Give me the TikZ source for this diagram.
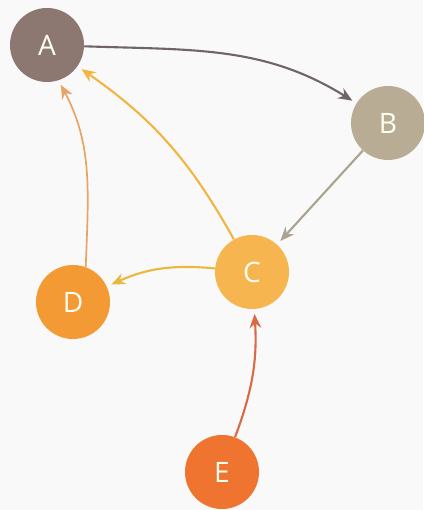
\documentclass[tikz,border=0pt]{standalone}
\usepackage{fontspec}
\setsansfont{Open Sans}
\usetikzlibrary{arrows.meta}
\definecolor{figBg}{RGB}{249,249,250}
\definecolor{figA}{RGB}{141,119,113}
\definecolor{figB}{RGB}{185,172,149}
\definecolor{figC}{RGB}{246,181,78}
\definecolor{figD}{RGB}{244,154,52}
\definecolor{figE}{RGB}{238,116,48}
\definecolor{lnAB}{RGB}{111,101,102}
\definecolor{lnBC}{RGB}{171,163,143}
\definecolor{lnCA}{RGB}{242,181,66}
\definecolor{lnDA}{RGB}{232,163,103}
\definecolor{lnCD}{RGB}{233,184,62}
\definecolor{lnEC}{RGB}{218,106,69}

\begin{document}
\begin{tikzpicture}[x=0.025cm,y=0.025cm,>={Stealth[length=3.5mm,width=2.9mm]},
  vtx/.style={circle,minimum size=1.85cm,inner sep=0pt,text=white!95!yellow,font=\sffamily\fontsize{20}{22}\selectfont},
  link/.style={->,line width=1.5pt,shorten >=1.2mm}]
\useasboundingbox (0,0) rectangle (423,510);
\fill[figBg] (0,0) rectangle (423,510);
\node[vtx,fill=figA] (a) at (47,465) {A};
\node[vtx,fill=figB] (b) at (388,387) {B};
\node[vtx,fill=figC] (c) at (252,238) {C};
\node[vtx,fill=figD] (d) at (73,208) {D};
\node[vtx,fill=figE] (e) at (222,38) {E};
\draw[link,lnAB] (a) to[out=-2,in=148] (b);
\draw[link,lnBC] (b) -- (c);
\draw[link,lnCA] (c) to[bend right=13] (a);
\draw[link,lnDA,line width=1.2pt] (d.70) to[out=88,in=-62] (a.-72);
\draw[link,lnCD] (c) to[bend right=15] (d);
\draw[link,lnEC] (e) to[bend right=12] (c);
\end{tikzpicture}
\end{document}
